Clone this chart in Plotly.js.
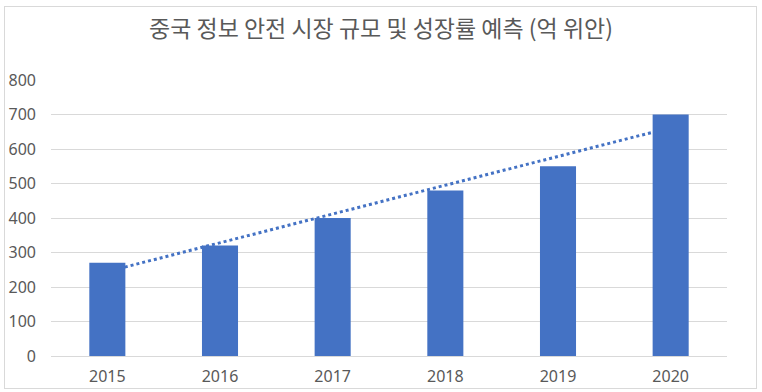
<!DOCTYPE html>
<html><head><meta charset="utf-8">
<script src="https://cdn.plot.ly/plotly-3.0.1.min.js"></script>
<style>
html,body{margin:0;padding:0;background:#fff;}
#frame{position:absolute;left:4px;top:6px;width:751px;height:381px;border:1px solid #d9d9d9;pointer-events:none;z-index:5;}
#chart{position:absolute;left:0;top:0;width:762px;height:392px;}
</style></head>
<body>
<div id="chart"></div><div id="frame"></div>
<script>
const years = ['2015','2016','2017','2018','2019','2020'];
const values = [270, 320, 400, 480, 550, 700];
const titleText = '중국 정보 안전 시장 규모 및 성장률 예측 (억 위안)';

// linear trendline (least squares) derived from the values
const n = values.length;
const xs = values.map((_, i) => i);
const mx = xs.reduce((a,b)=>a+b,0)/n, my = values.reduce((a,b)=>a+b,0)/n;
let sxy = 0, sxx = 0;
xs.forEach((x,i)=>{ sxy += (x-mx)*(values[i]-my); sxx += (x-mx)*(x-mx); });
const slope = sxy/sxx, icpt = my - slope*mx;
const trend = xs.map(x => icpt + slope*x);

const font = '"Noto Sans", "Open Sans", sans-serif';
const data = [
  {type:'scatter', mode:'lines', x: years, y: trend, xaxis:'x', yaxis:'y',
   line:{color:'#4472C4', width:3, dash:'dot'}, hoverinfo:'skip'},
  {type:'bar', x: years, y: values, xaxis:'x2', yaxis:'y2',
   marker:{color:'#4472C4'}}
];
const yax = {range:[0,800], dtick:100, showgrid:true, gridcolor:'#d9d9d9', gridwidth:1,
  zeroline:false, showline:false, ticks:'', tickfont:{size:16, color:'#595959', family:font},
  ticklabelstandoff:14, fixedrange:true};
const xax = {type:'category', range:[-0.5,5.5], showgrid:false, zeroline:false,
  showline:true, linecolor:'#d9d9d9', linewidth:1, ticks:'',
  tickfont:{size:16, color:'#595959', family:font}, ticklabelstandoff:6, fixedrange:true};
const layout = {
  width:762, height:392,
  margin:{l:51, r:35, t:80, b:36},
  paper_bgcolor:'#fff', plot_bgcolor:'#fff',
  showlegend:false, bargap:0.68,
  title:{text: titleText, x:0.5, xref:'container', xanchor:'center', y:0.925, yref:'container', yanchor:'middle',
    font:{size:23, color:'#595959', family:'"Noto Sans CJK KR", sans-serif'}},
  xaxis: xax,
  yaxis: yax,
  xaxis2: Object.assign({}, xax, {overlaying:'x', showticklabels:false, showline:false}),
  yaxis2: Object.assign({}, yax, {overlaying:'y', showgrid:false, showticklabels:false})
};
Plotly.newPlot('chart', data, layout, {displayModeBar:false, staticPlot:true});
</script>
</body></html>
